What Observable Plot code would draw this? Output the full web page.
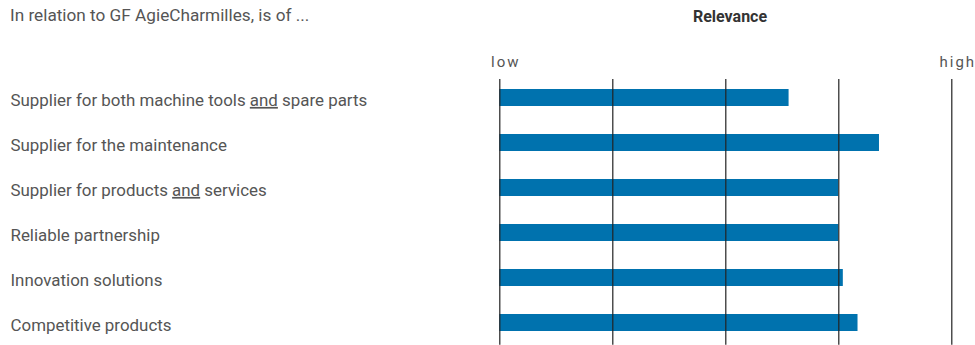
<!DOCTYPE html>
<html>
<head>
<meta charset="utf-8">
<script src="https://cdn.jsdelivr.net/npm/d3@7"></script>
<script src="https://cdn.jsdelivr.net/npm/@observablehq/plot@0.6"></script>
<style>
  html, body { margin: 0; padding: 0; background: #fff; }
  #wrap { position: relative; width: 975px; height: 345px; font-family: Roboto, sans-serif; }
  #intro { position: absolute; left: 10px; top: 5px; font-size: 17.2px; color: #555; white-space: nowrap; }
  #title { position: absolute; left: 730px; top: 7px; transform: translateX(-50%); font-size: 16px; font-weight: 700; color: #333; white-space: nowrap; }
  #chart svg { display: block; }
  .xax text { letter-spacing: 2px; }
</style>
</head>
<body>
<div id="wrap">
  <div id="chart"></div>
  <div id="intro">In relation to GF AgieCharmilles, is of ...</div>
  <div id="title">Relevance</div>
</div>
<script>
const categories = [
  "Supplier for both machine tools and spare parts",
  "Supplier for the maintenance",
  "Supplier for products and services",
  "Reliable partnership",
  "Innovation solutions",
  "Competitive products"
];
const relevance = [3.56, 4.36, 4.0, 4.0, 4.04, 4.17];
const gridTicks = [1, 2, 3, 4, 5];
const endTicks = [1, 5];
const endLabels = ["low", "high"];

const data = categories.map((c, i) => ({category: c, value: relevance[i]}));

const chart = Plot.plot({
  width: 975,
  height: 345,
  marginTop: 74.8,
  marginBottom: 0.2,
  marginLeft: 499.3,
  marginRight: 23.7,
  style: {fontFamily: "Roboto, sans-serif", fontSize: "16.9px", color: "#555", background: "#fff"},
  x: {domain: [1, 5]},
  y: {domain: categories, paddingInner: 0.629, paddingOuter: 0.3145},
  marks: [
    Plot.barX(data, {x1: 1, x2: "value", y: "category", fill: "#0072ae"}),
    Plot.ruleX(gridTicks, {stroke: "#222", strokeWidth: 1.2, insetTop: 4.2}),
    Plot.axisX({
      anchor: "top",
      ticks: endTicks,
      tickFormat: (d) => endLabels[endTicks.indexOf(d)],
      tickSize: 0,
      tickPadding: 8,
      label: null,
      dx: 6,
      fill: "#555",
      fontSize: 15,
      className: "xax"
    }),
    Plot.axisY({
      anchor: "left",
      tickSize: 0,
      tickPadding: 489.3,
      textAnchor: "start",
      label: null,
      fill: "#555",
      dy: 2.5,
      className: "yax"
    })
  ]
});

document.getElementById("chart").appendChild(chart);

// underline the word "and" in category labels
d3.select(chart).selectAll(".yax text").each(function() {
  const t = d3.select(this);
  const s = t.text();
  const idx = s.indexOf(" and ");
  if (idx >= 0) {
    t.text(null);
    t.append("tspan").text(s.slice(0, idx + 1));
    t.append("tspan").style("text-decoration", "underline").text("and");
    t.append("tspan").text(s.slice(idx + 4));
  }
});
</script>
</body>
</html>
